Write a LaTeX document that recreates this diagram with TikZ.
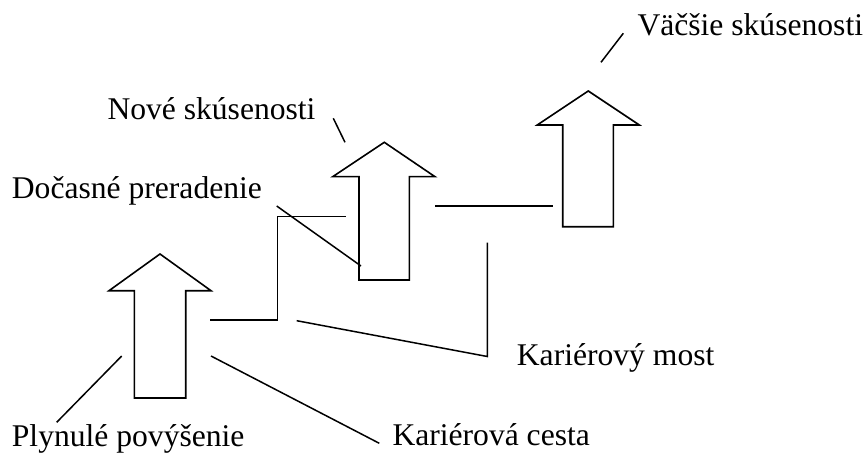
\documentclass[tikz,border=0pt]{standalone}
\usepackage{fontspec}
\setmainfont{Liberation Serif}
\begin{document}
\begin{tikzpicture}[x=1pt,y=-1pt,
  lbl/.style={anchor=base west,inner sep=0pt,font=\fontsize{31.6}{32}\selectfont},
  arrowshape/.style={draw=black,line width=1.6pt,line join=miter},
  lead/.style={draw=black,line width=1.5pt}]
\useasboundingbox (0,0) rectangle (866,454);
% arrows
\draw[arrowshape] (134.3,398) -- (134.3,290.7) -- (109,290.7) -- (160,254) -- (211,290.7) -- (185.7,290.7) -- (185.7,398) -- cycle;
\draw[arrowshape] (359,280) -- (359,176.7) -- (332.7,176.7) -- (384.3,142.3) -- (435,176.7) -- (409.3,176.7) -- (409.3,280) -- cycle;
\draw[arrowshape] (562.7,226.7) -- (562.7,125) -- (537.3,125) -- (588.3,91) -- (639.3,125) -- (613.3,125) -- (613.3,226.7) -- cycle;
% labels
\node[lbl] (vacsie) at (637.3,36) {Väčšie skúsenosti};
\node[lbl] (nove) at (107.3,119.3) {Nové skúsenosti};
\node[lbl] (docasne) at (11.7,198.3) {Dočasné preradenie};
\node[lbl] (plynule) at (11.7,446) {Plynulé povýšenie};
\node[lbl] (cesta) at (392.3,445.7) {Kariérová cesta};
\node[lbl] (most) at (516.7,365.7) {Kariérový most};
% path lines
\draw[lead] (210,320) -- (277.7,320) -- (277.7,216.7) -- (345.7,216.7);
\draw[lead] (435,206) -- (553.3,206);
% leader lines
\coordinate (m1) at (296.7,320.7);
\coordinate (m2) at (487.3,356.5);
\coordinate (m3) at (487.3,242.7);
\draw[lead] (m1) -- (m2) -- (m3);
\coordinate (c1) at (211,356);
\coordinate (c2) at (379.3,443.3);
\draw[lead] (c1) -- (c2);
\coordinate (p1) at (121.7,356);
\coordinate (p2) at (56.7,422.3);
\draw[lead] (p1) -- (p2);
\coordinate (d1) at (276.7,206);
\coordinate (d2) at (361,266);
\draw[lead] (d1) -- (d2);
\coordinate (n1) at (333.3,118.3);
\coordinate (n2) at (345,142.3);
\draw[lead] (n1) -- (n2);
\coordinate (v1) at (623.3,33.3);
\coordinate (v2) at (601,62.3);
\draw[lead] (v1) -- (v2);
\end{tikzpicture}
\end{document}
